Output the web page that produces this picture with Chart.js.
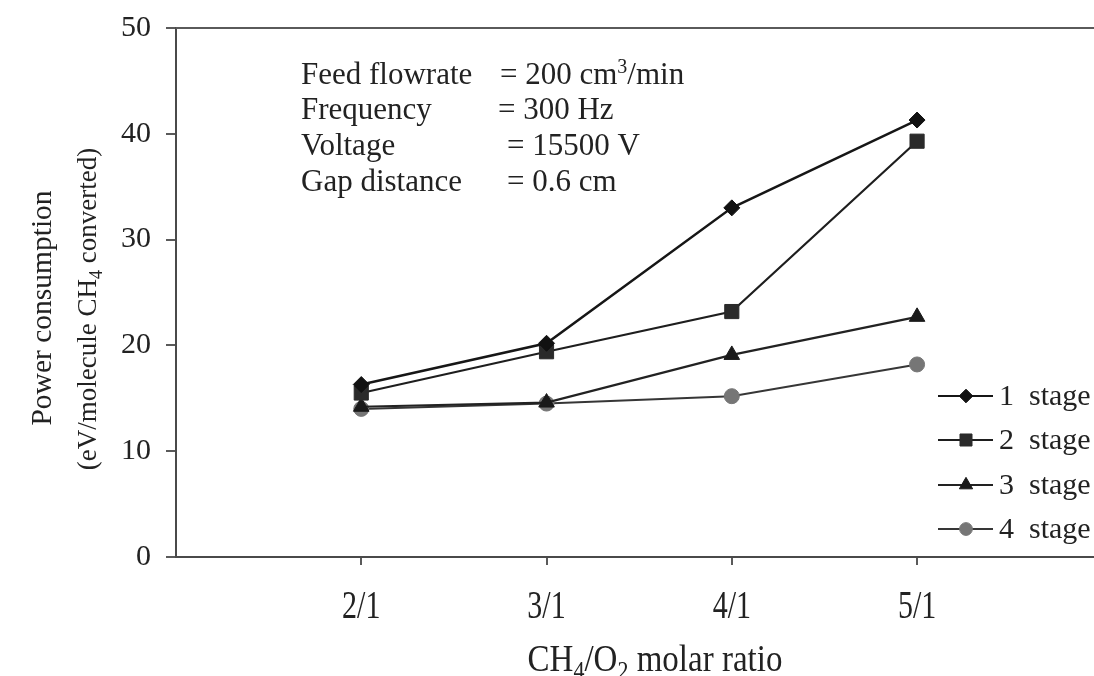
<!DOCTYPE html>
<html>
<head>
<meta charset="utf-8">
<script src="https://cdn.jsdelivr.net/npm/chart.js@4/dist/chart.umd.min.js"></script>
<style>
  html, body { margin: 0; padding: 0; background: #ffffff; }
  #wrap { width: 1094px; height: 676px; position: relative; }
</style>
</head>
<body>
<div id="wrap"><canvas id="c" width="1094" height="676"></canvas></div>
<script>
// CH4/O2 molar ratios on the x axis
const ratioLabels = ['2/1', '3/1', '4/1', '5/1'];

// Power consumption (eV/molecule CH4 converted) per number of stages
const stage1 = [16.3, 20.2, 33.0, 41.3];
const stage2 = [15.5, 19.4, 23.2, 39.3];
const stage3 = [14.2, 14.6, 19.1, 22.7];
const stage4 = [14.0, 14.5, 15.2, 18.2];

const seriesNames = ['1  stage', '2  stage', '3  stage', '4  stage'];
const yTicks = [0, 10, 20, 30, 40, 50];

// Operating conditions listed in the plot (parts: plain / superscript)
const condNames = ['Feed flowrate', 'Frequency', 'Voltage', 'Gap distance'];
const condValues = [
  [{ t: '= 200 cm' }, { t: '3', sup: true }, { t: '/min' }],
  [{ t: '= 300 Hz' }],
  [{ t: '= 15500 V' }],
  [{ t: '= 0.6 cm' }]
];

const SERIF = '"Liberation Serif", "Times New Roman", serif';

function toPoints(arr) {
  return arr.map((v, i) => ({ x: i + 1, y: v }));
}

const styles = [
  { pointStyle: 'rectRot', radius: 8, color: '#111111', line: '#161616', width: 2.4 },
  { pointStyle: 'rect', radius: 10, color: '#2a2a2a', line: '#1e1e1e', width: 2.2 },
  { pointStyle: 'triangle', radius: 9, color: '#1a1a1a', line: '#222222', width: 2.2 },
  { pointStyle: 'circle', radius: 7.5, color: '#767676', line: '#363636', width: 2 }
];

const seriesData = [stage1, stage2, stage3, stage4];

const datasets = seriesData.map((d, i) => ({
  label: seriesNames[i],
  data: toPoints(d),
  borderColor: styles[i].line,
  borderWidth: styles[i].width,
  pointStyle: styles[i].pointStyle,
  pointRadius: styles[i].radius,
  pointBackgroundColor: styles[i].color,
  pointBorderColor: styles[i].color,
  pointBorderWidth: 1,
  tension: 0,
  clip: false
}));

// Draws a run of text pieces, some of them sub- or superscript
function drawRich(ctx, parts, x, y, size, align) {
  const base = size + 'px ' + SERIF;
  const small = Math.round(size * 0.66) + 'px ' + SERIF;
  let total = 0;
  parts.forEach(p => {
    ctx.font = (p.sub || p.sup) ? small : base;
    total += ctx.measureText(p.t).width;
  });
  let cx = align === 'center' ? x - total / 2 : x;
  ctx.textAlign = 'left';
  ctx.textBaseline = 'alphabetic';
  parts.forEach(p => {
    ctx.font = (p.sub || p.sup) ? small : base;
    const dy = p.sub ? size * 0.22 : (p.sup ? -size * 0.36 : 0);
    ctx.fillText(p.t, cx, y + dy);
    cx += ctx.measureText(p.t).width;
  });
}

const decorations = {
  id: 'decorations',
  afterDraw(chart) {
    const ctx = chart.ctx;
    const area = chart.chartArea;
    const xs = chart.scales.x;
    ctx.save();

    // top edge of the plot frame
    ctx.strokeStyle = '#5a5a5a';
    ctx.lineWidth = 2;
    ctx.beginPath();
    ctx.moveTo(area.left, area.top);
    ctx.lineTo(area.right, area.top);
    ctx.stroke();

    ctx.fillStyle = '#222222';

    // x tick labels, tall and narrow
    ratioLabels.forEach((lab, i) => {
      const px = xs.getPixelForValue(i + 1);
      ctx.save();
      ctx.translate(px, 618);
      ctx.scale(1, 1.35);
      ctx.font = '30px ' + SERIF;
      ctx.textAlign = 'center';
      ctx.textBaseline = 'alphabetic';
      ctx.fillText(lab, 0, 0);
      ctx.restore();
    });

    // x axis title
    ctx.save();
    ctx.translate(655, 671);
    ctx.scale(1, 1.12);
    drawRich(ctx, [{ t: 'CH' }, { t: '4', sub: true }, { t: '/O' }, { t: '2', sub: true }, { t: ' molar ratio' }], 0, 0, 33, 'center');
    ctx.restore();

    // y axis title, two lines
    ctx.save();
    ctx.translate(51, 308);
    ctx.rotate(-Math.PI / 2);
    drawRich(ctx, [{ t: 'Power consumption' }], 0, 0, 29.5, 'center');
    ctx.restore();
    ctx.save();
    ctx.translate(96, 309);
    ctx.rotate(-Math.PI / 2);
    drawRich(ctx, [{ t: '(eV/molecule CH' }, { t: '4', sub: true }, { t: ' converted)' }], 0, 0, 27, 'center');
    ctx.restore();

    // operating conditions
    const rowY = [84, 119, 155, 191];
    const eqX = [500, 498, 507, 507];
    ctx.font = '31px ' + SERIF;
    ctx.textAlign = 'left';
    ctx.textBaseline = 'alphabetic';
    condNames.forEach((n, i) => {
      ctx.font = '31px ' + SERIF;
      ctx.fillText(n, 301, rowY[i]);
      drawRich(ctx, condValues[i], eqX[i], rowY[i], 31, 'left');
    });

    // legend
    const legY = [396, 440, 485, 529];
    chart.data.datasets.forEach((ds, i) => {
      const y = legY[i];
      ctx.strokeStyle = ds.borderColor;
      ctx.lineWidth = 2;
      ctx.beginPath();
      ctx.moveTo(938, y);
      ctx.lineTo(993, y);
      ctx.stroke();
      ctx.fillStyle = ds.pointBackgroundColor;
      ctx.strokeStyle = ds.pointBorderColor;
      ctx.lineWidth = 1;
      Chart.helpers.drawPoint(ctx, {
        pointStyle: ds.pointStyle,
        radius: ds.pointRadius * 0.85,
        rotation: 0,
        borderWidth: 1
      }, 966, y);
      ctx.fillStyle = '#222222';
      ctx.font = '30px ' + SERIF;
      ctx.textAlign = 'left';
      ctx.textBaseline = 'middle';
      ctx.fillText(ds.label, 999, y + 1);
    });

    ctx.restore();
  }
};

new Chart(document.getElementById('c'), {
  type: 'line',
  data: { datasets },
  options: {
    responsive: false,
    animation: false,
    devicePixelRatio: 1,
    layout: { autoPadding: false, padding: { top: 28, right: 0, bottom: 0, left: 0 } },
    plugins: { legend: { display: false }, tooltip: { enabled: false } },
    scales: {
      x: {
        type: 'linear',
        min: 0,
        max: 4.955,
        afterBuildTicks: s => { s.ticks = ratioLabels.map((l, i) => ({ value: i + 1 })); },
        afterFit: s => { s.height = 119; s.paddingLeft = 0; s.paddingRight = 0; },
        ticks: { display: false },
        grid: { drawOnChartArea: false, drawTicks: true, tickLength: 8, color: '#5a5a5a', lineWidth: 2 },
        border: { color: '#4a4a4a', width: 2 }
      },
      y: {
        min: 0,
        max: 50,
        afterBuildTicks: s => { s.ticks = yTicks.map(v => ({ value: v })); },
        afterFit: s => { s.width = 176; s.paddingTop = 0; s.paddingBottom = 0; },
        ticks: {
          color: '#222222',
          padding: 15,
          font: { family: SERIF, size: 30 }
        },
        grid: { drawOnChartArea: false, drawTicks: true, tickLength: 10, color: '#5a5a5a', lineWidth: 2 },
        border: { color: '#4a4a4a', width: 2 }
      }
    }
  },
  plugins: [decorations]
});
</script>
</body>
</html>
